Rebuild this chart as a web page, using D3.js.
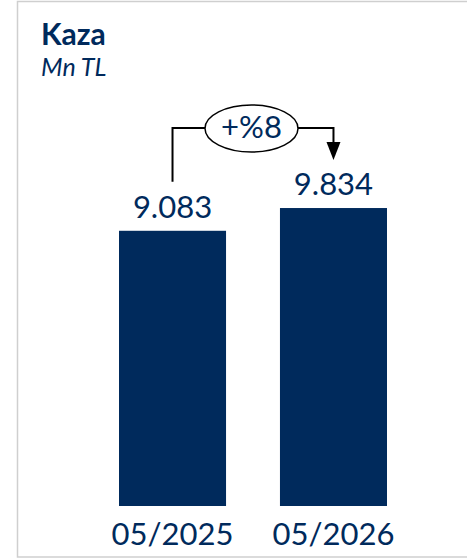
<!DOCTYPE html>
<html>
<head>
<meta charset="utf-8">
<script src="https://cdn.jsdelivr.net/npm/d3@7"></script>
<style>
  html, body { margin: 0; padding: 0; background: #fff; }
  svg { display: block; }
  text { font-family: Lato, "Open Sans", sans-serif; }
</style>
</head>
<body>
<div id="chart"></div>
<script>
"use strict";

var categories = ["05/2025", "05/2026"];
var values = [9083, 9834];
var valueLabels = ["9.083", "9.834"];
var changeLabel = "+%8";

var W = 467, H = 559;
var navy = "#002a5c";

var svg = d3.select("#chart").append("svg")
  .attr("width", W)
  .attr("height", H);

// frame (right edge is cut off in the original)
svg.append("path")
  .attr("d", "M480 1.5 H17.5 V557 H480")
  .attr("fill", "none")
  .attr("stroke", "#cfcfcf")
  .attr("stroke-width", 1.5);

svg.append("text")
  .attr("x", 41).attr("y", 45)
  .attr("fill", navy)
  .attr("font-size", 30)
  .attr("font-weight", 700)
  .text("Kaza");

svg.append("text")
  .attr("x", 41).attr("y", 76)
  .attr("fill", navy)
  .attr("font-size", 25)
  .attr("font-style", "italic")
  .text("Mn TL");

var x = d3.scaleBand()
  .domain(categories)
  .range([119, 387])
  .paddingInner(0.335)
  .paddingOuter(0);

var y = d3.scaleLinear()
  .domain([0, 10000])
  .range([506, 203]);

var bars = svg.selectAll(".bar")
  .data(values)
  .enter();

bars.append("rect")
  .attr("x", function (d, i) { return x(categories[i]); })
  .attr("y", function (d) { return y(d); })
  .attr("width", x.bandwidth())
  .attr("height", function (d) { return y(0) - y(d); })
  .attr("fill", navy);

bars.append("text")
  .attr("x", function (d, i) { return x(categories[i]) + x.bandwidth() / 2; })
  .attr("y", function (d) { return y(d) - 13; })
  .attr("text-anchor", "middle")
  .attr("fill", navy)
  .attr("font-size", 31)
  .text(function (d, i) { return valueLabels[i]; });

svg.selectAll(".cat")
  .data(categories)
  .enter()
  .append("text")
  .attr("x", function (d) { return x(d) + x.bandwidth() / 2; })
  .attr("y", y(0) + 39)
  .attr("text-anchor", "middle")
  .attr("fill", navy)
  .attr("font-size", 31)
  .text(function (d) { return d; });

// change annotation
var x0 = x(categories[0]) + x.bandwidth() / 2;
var x1 = x(categories[1]) + x.bandwidth() / 2;
var lineY = 128;
var cx = (x0 + x1) / 2 - 1.5;
var rx = 46.5, ry = 23.5;
var tipY = y(values[1]) - 48;

svg.append("path")
  .attr("d", "M" + x0 + " " + (y(values[0]) - 49) + " V" + lineY + " H" + (cx - rx))
  .attr("fill", "none")
  .attr("stroke", "#000")
  .attr("stroke-width", 2);

svg.append("path")
  .attr("d", "M" + (cx + rx) + " " + lineY + " H" + x1 + " V" + (tipY - 16))
  .attr("fill", "none")
  .attr("stroke", "#000")
  .attr("stroke-width", 2);

svg.append("path")
  .attr("d", "M" + (x1 - 7) + " " + (tipY - 18) + " L" + (x1 + 7) + " " + (tipY - 18) + " L" + x1 + " " + tipY + " Z")
  .attr("fill", "#000");

svg.append("ellipse")
  .attr("cx", cx).attr("cy", lineY + 0.5)
  .attr("rx", rx).attr("ry", ry)
  .attr("fill", "#fff")
  .attr("stroke", "#000")
  .attr("stroke-width", 1.5);

svg.append("text")
  .attr("x", cx).attr("y", lineY + 10)
  .attr("text-anchor", "middle")
  .attr("fill", navy)
  .attr("font-size", 31)
  .text(changeLabel);
</script>
</body>
</html>
